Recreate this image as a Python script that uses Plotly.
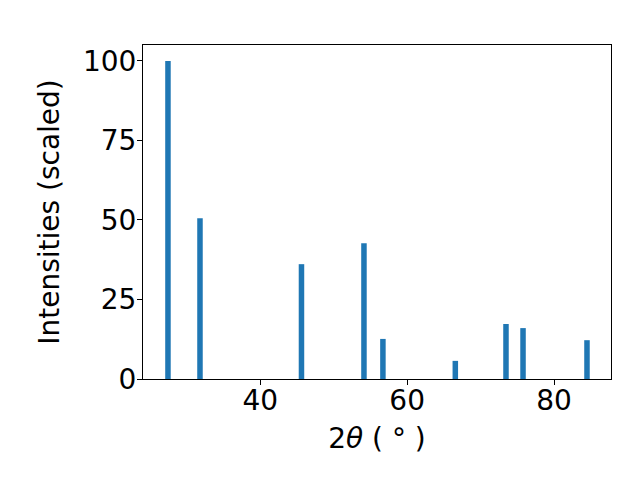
import plotly.graph_objects as go

# peak positions (2theta, degrees) and scaled intensities
two_theta = [27.43, 31.79, 45.61, 54.12, 56.70, 66.56, 73.46, 75.78, 84.49]
intensity = [100.0, 50.5, 36.1, 42.7, 12.6, 5.7, 17.3, 16.0, 12.2]
bar_width = 0.75

fig = go.Figure(go.Bar(x=two_theta, y=intensity, width=bar_width,
                       marker_color='#1f77b4', marker_line_width=0))

axis_style = dict(showline=True, linecolor='black', linewidth=1, mirror=True,
                  ticks='outside', ticklen=5, tickwidth=1, tickcolor='black',
                  showgrid=False, zeroline=False,
                  tickfont=dict(family='DejaVu Sans', size=28, color='black'))

fig.update_layout(
    width=640, height=480,
    margin=dict(l=135, r=37, t=37, b=109),
    plot_bgcolor='white', paper_bgcolor='white',
    showlegend=False,
    font=dict(family='DejaVu Sans', size=28, color='black'),
)
fig.update_xaxes(range=[24.03, 87.76], tickvals=[40, 60, 80], ticklabelstandoff=-9,
                 title=dict(text='2<i>θ</i> ( ° )', standoff=12,
                            font=dict(size=28)),
                 **axis_style)
fig.update_yaxes(range=[0, 105], tickvals=[0, 25, 50, 75, 100], ticklabelstandoff=-5,
                 title=dict(text='Intensities (scaled)', standoff=15,
                            font=dict(size=28)),
                 **axis_style)

fig.write_html("out.html")
